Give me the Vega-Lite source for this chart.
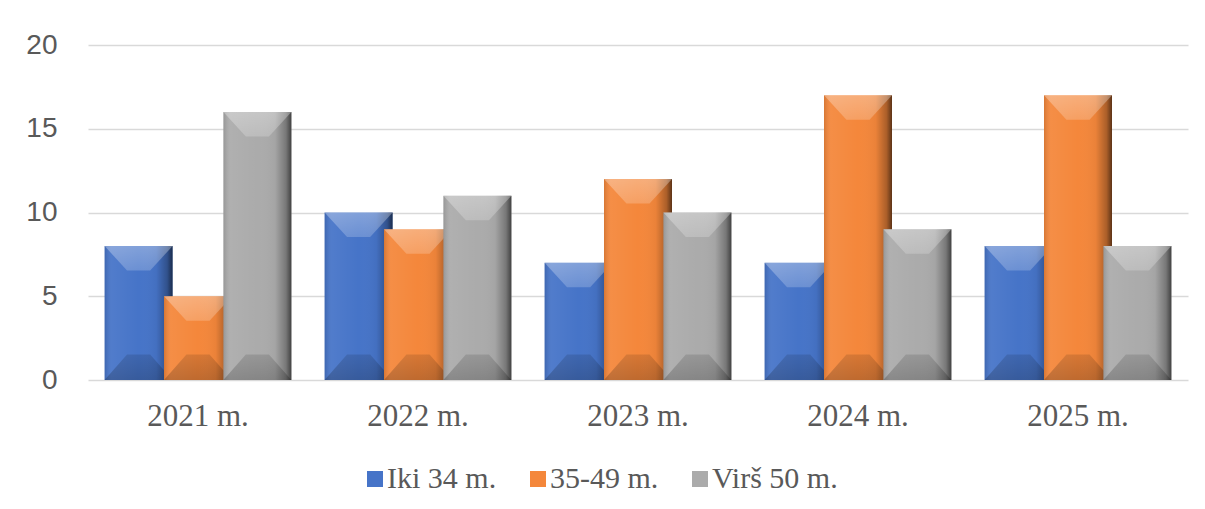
{
  "$schema": "https://vega.github.io/schema/vega-lite/v6.json",
  "width": 1100,
  "height": 335,
  "autosize": {"type": "none"},
  "padding": {"left": 88, "top": 45, "right": 17, "bottom": 129},
  "background": "white",
  "config": {"view": {"stroke": null}},
  "data": {
    "values": [
      {"year": "2021 m.", "series": "Iki 34 m.", "value": 8},
      {"year": "2021 m.", "series": "35-49 m.", "value": 5},
      {"year": "2021 m.", "series": "Virš 50 m.", "value": 16},
      {"year": "2022 m.", "series": "Iki 34 m.", "value": 10},
      {"year": "2022 m.", "series": "35-49 m.", "value": 9},
      {"year": "2022 m.", "series": "Virš 50 m.", "value": 11},
      {"year": "2023 m.", "series": "Iki 34 m.", "value": 7},
      {"year": "2023 m.", "series": "35-49 m.", "value": 12},
      {"year": "2023 m.", "series": "Virš 50 m.", "value": 10},
      {"year": "2024 m.", "series": "Iki 34 m.", "value": 7},
      {"year": "2024 m.", "series": "35-49 m.", "value": 17},
      {"year": "2024 m.", "series": "Virš 50 m.", "value": 9},
      {"year": "2025 m.", "series": "Iki 34 m.", "value": 8},
      {"year": "2025 m.", "series": "35-49 m.", "value": 17},
      {"year": "2025 m.", "series": "Virš 50 m.", "value": 8}
    ]
  },
  "encoding": {
    "x": {
      "field": "year", "type": "nominal", "sort": null,
      "scale": {"paddingInner": 0.19, "paddingOuter": 0.095},
      "axis": {"title": null, "labelAngle": 0, "domain": false, "ticks": false, "grid": false,
        "labelFont": "Liberation Serif", "labelFontSize": 31, "labelColor": "#595959", "labelPadding": 21}
    },
    "xOffset": {
      "field": "series", "type": "nominal",
      "scale": {"domain": ["Iki 34 m.", "35-49 m.", "Virš 50 m."], "paddingInner": 0, "paddingOuter": 0}
    },
    "y": {
      "field": "value", "type": "quantitative",
      "scale": {"domain": [0, 20], "nice": false},
      "axis": {"title": null, "domain": false, "ticks": false, "values": [0, 5, 10, 15, 20],
        "gridColor": "#d9d9d9", "gridWidth": 1.5,
        "labelFont": "Liberation Sans", "labelFontSize": 28, "labelColor": "#595959", "labelPadding": 31}
    }
  },
  "layer": [
    {
      "transform": [{"filter": "datum.series === 'Iki 34 m.'"}],
      "mark": {"type": "bar", "width": 68},
      "encoding": {
        "color": {"field": "series", "type": "nominal",
          "scale": {"domain": ["Iki 34 m.", "35-49 m.", "Virš 50 m."], "range": ["#4674C8", "#F4873B", "#ABABAB"]},
          "legend": {"orient": "none", "legendX": 272, "legendY": 419, "direction": "horizontal", "title": null,
            "symbolType": "square", "symbolSize": 256, "symbolStrokeWidth": 0, "symbolOpacity": 1,
            "labelFont": "Liberation Serif", "labelFontSize": 30, "labelColor": "#595959", "labelOffset": -3, "columnPadding": 26}}
      }
    },
    {
      "transform": [{"filter": "datum.series === 'Iki 34 m.'"}],
      "mark": {"type": "bar", "width": 68,
        "fill": {"gradient": "linear", "x1": 0, "y1": 0, "x2": 1, "y2": 0, "stops": [
          {"offset": 0, "color": "rgba(0,0,0,0.12)"}, {"offset": 0.1, "color": "rgba(255,255,255,0.06)"},
          {"offset": 0.5, "color": "rgba(255,255,255,0)"}, {"offset": 0.76, "color": "rgba(0,0,0,0.04)"},
          {"offset": 0.92, "color": "rgba(0,0,0,0.3)"}, {"offset": 1, "color": "rgba(0,0,0,0.62)"}]}}
    },
    {
      "transform": [{"filter": "datum.series === 'Iki 34 m.'"}],
      "mark": {"type": "point", "filled": true, "opacity": 1, "strokeWidth": 0, "size": 4624,
        "shape": "M -1 0 L 1 0 L 0.34 0.72 L -0.34 0.72 Z",
        "fill": {"gradient": "linear", "x1": 0, "y1": 0, "x2": 0, "y2": 1, "stops": [
          {"offset": 0, "color": "rgba(255,255,255,0.32)"}, {"offset": 1, "color": "rgba(255,255,255,0.2)"}]}}
    },
    {
      "transform": [{"filter": "datum.series === 'Iki 34 m.'"}],
      "mark": {"type": "point", "filled": true, "opacity": 1, "strokeWidth": 0, "size": 4624,
        "shape": "M -1 0 L 1 0 L 0.34 -0.75 L -0.34 -0.75 Z",
        "fill": {"gradient": "linear", "x1": 0, "y1": 0, "x2": 0, "y2": 1, "stops": [
          {"offset": 0, "color": "rgba(0,0,0,0.12)"}, {"offset": 1, "color": "rgba(0,0,0,0.22)"}]}},
      "encoding": {"y": {"datum": 0, "type": "quantitative"}}
    },
    {
      "transform": [{"filter": "datum.series === '35-49 m.'"}],
      "mark": {"type": "bar", "width": 68},
      "encoding": {"color": {"field": "series", "type": "nominal"}}
    },
    {
      "transform": [{"filter": "datum.series === '35-49 m.'"}],
      "mark": {"type": "bar", "width": 68,
        "fill": {"gradient": "linear", "x1": 0, "y1": 0, "x2": 1, "y2": 0, "stops": [
          {"offset": 0, "color": "rgba(0,0,0,0.12)"}, {"offset": 0.1, "color": "rgba(255,255,255,0.06)"},
          {"offset": 0.5, "color": "rgba(255,255,255,0)"}, {"offset": 0.76, "color": "rgba(0,0,0,0.04)"},
          {"offset": 0.92, "color": "rgba(0,0,0,0.3)"}, {"offset": 1, "color": "rgba(0,0,0,0.62)"}]}}
    },
    {
      "transform": [{"filter": "datum.series === '35-49 m.'"}],
      "mark": {"type": "point", "filled": true, "opacity": 1, "strokeWidth": 0, "size": 4624,
        "shape": "M -1 0 L 1 0 L 0.34 0.72 L -0.34 0.72 Z",
        "fill": {"gradient": "linear", "x1": 0, "y1": 0, "x2": 0, "y2": 1, "stops": [
          {"offset": 0, "color": "rgba(255,255,255,0.32)"}, {"offset": 1, "color": "rgba(255,255,255,0.2)"}]}}
    },
    {
      "transform": [{"filter": "datum.series === '35-49 m.'"}],
      "mark": {"type": "point", "filled": true, "opacity": 1, "strokeWidth": 0, "size": 4624,
        "shape": "M -1 0 L 1 0 L 0.34 -0.75 L -0.34 -0.75 Z",
        "fill": {"gradient": "linear", "x1": 0, "y1": 0, "x2": 0, "y2": 1, "stops": [
          {"offset": 0, "color": "rgba(0,0,0,0.12)"}, {"offset": 1, "color": "rgba(0,0,0,0.22)"}]}},
      "encoding": {"y": {"datum": 0, "type": "quantitative"}}
    },
    {
      "transform": [{"filter": "datum.series === 'Virš 50 m.'"}],
      "mark": {"type": "bar", "width": 68},
      "encoding": {"color": {"field": "series", "type": "nominal"}}
    },
    {
      "transform": [{"filter": "datum.series === 'Virš 50 m.'"}],
      "mark": {"type": "bar", "width": 68,
        "fill": {"gradient": "linear", "x1": 0, "y1": 0, "x2": 1, "y2": 0, "stops": [
          {"offset": 0, "color": "rgba(0,0,0,0.12)"}, {"offset": 0.1, "color": "rgba(255,255,255,0.06)"},
          {"offset": 0.5, "color": "rgba(255,255,255,0)"}, {"offset": 0.76, "color": "rgba(0,0,0,0.04)"},
          {"offset": 0.92, "color": "rgba(0,0,0,0.3)"}, {"offset": 1, "color": "rgba(0,0,0,0.62)"}]}}
    },
    {
      "transform": [{"filter": "datum.series === 'Virš 50 m.'"}],
      "mark": {"type": "point", "filled": true, "opacity": 1, "strokeWidth": 0, "size": 4624,
        "shape": "M -1 0 L 1 0 L 0.34 0.72 L -0.34 0.72 Z",
        "fill": {"gradient": "linear", "x1": 0, "y1": 0, "x2": 0, "y2": 1, "stops": [
          {"offset": 0, "color": "rgba(255,255,255,0.32)"}, {"offset": 1, "color": "rgba(255,255,255,0.2)"}]}}
    },
    {
      "transform": [{"filter": "datum.series === 'Virš 50 m.'"}],
      "mark": {"type": "point", "filled": true, "opacity": 1, "strokeWidth": 0, "size": 4624,
        "shape": "M -1 0 L 1 0 L 0.34 -0.75 L -0.34 -0.75 Z",
        "fill": {"gradient": "linear", "x1": 0, "y1": 0, "x2": 0, "y2": 1, "stops": [
          {"offset": 0, "color": "rgba(0,0,0,0.12)"}, {"offset": 1, "color": "rgba(0,0,0,0.22)"}]}},
      "encoding": {"y": {"datum": 0, "type": "quantitative"}}
    }
  ]
}
